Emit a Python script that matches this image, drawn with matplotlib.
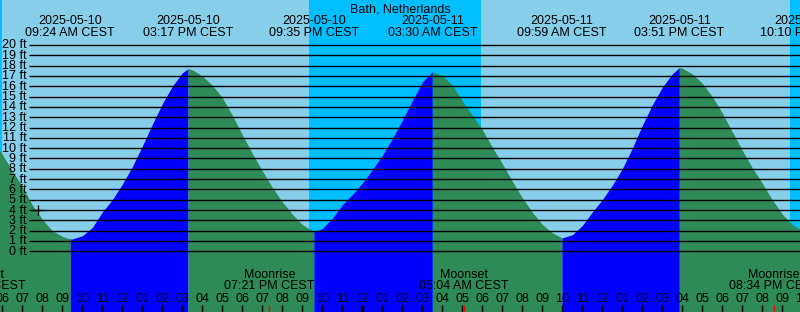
import datetime as dt
import matplotlib
matplotlib.use("Agg")
import matplotlib.pyplot as plt
import matplotlib.transforms as mtransforms

# ---- data ----
station = "Bath, Netherlands"

# tide extremes (local time) and heights in ft
ext_times = ["2025-05-10 03:06", "2025-05-10 09:24", "2025-05-10 15:17",
             "2025-05-10 21:35", "2025-05-11 03:30", "2025-05-11 09:59",
             "2025-05-11 15:51", "2025-05-11 22:10"]
ext_heights = [17.5, 1.2, 17.7, 1.9, 17.4, 1.3, 17.8, 1.9]
ext_high = [True, False, True, False, True, False, True, False]

# tide height every half hour, 2025-05-10 05:00 .. 2025-05-11 22:00
sample_start = "2025-05-10 05:00"
sample_step = 0.5  # hours
heights = [
    12.3, 10.9, 9.4, 7.8, 6.3, 4.5, 3.1, 2.0, 1.45, 1.2,    # 05:00-09:30
    1.5, 2.3, 3.8, 5.0, 6.5, 8.2, 10.2, 12.3, 14.3, 16.0,   # 10:00-14:30
    17.3, 17.6, 17.0, 16.1, 14.9, 13.2, 11.3, 9.5, 7.8, 6.2,  # 15:00-19:30
    4.8, 3.6, 2.6, 2.0, 2.2, 3.2, 4.5, 5.5, 6.6, 7.9,       # 20:00-00:30
    9.3, 10.9, 12.7, 14.6, 16.4, 17.4, 17.05, 16.1, 14.6, 13.2,  # 01:00-05:30
    11.8, 10.1, 8.5, 6.8, 5.2, 3.8, 2.6, 1.8, 1.3, 1.6,     # 06:00-10:30
    2.5, 3.8, 5.0, 6.4, 8.0, 10.0, 12.2, 14.2, 15.9, 17.2,  # 11:00-15:30
    17.75, 17.2, 16.3, 15.0, 13.4, 11.6, 9.8, 8.1, 6.6, 5.0,  # 16:00-20:30
    3.6, 2.6, 2.0,                                          # 21:00-22:00
]

# night periods (sunset -> sunrise)
night = [("2025-05-09 21:18", "2025-05-10 05:59"),
         ("2025-05-10 21:20", "2025-05-11 05:56"),
         ("2025-05-11 21:23", "2025-05-12 05:54")]

moon_events = ["Moonset", "Moonrise", "Moonset", "Moonrise"]
moon_times = ["2025-05-10 04:54", "2025-05-10 19:21",
              "2025-05-11 05:04", "2025-05-11 20:34"]

now_time = "2025-05-10 07:46"
now_height = 4.0

levels = list(range(0, 21))

# ---- helpers ----
t0 = dt.datetime(2025, 5, 10)


def parse(s):
    return dt.datetime.strptime(s, "%Y-%m-%d %H:%M")


def hrs(s):
    return (parse(s) - t0).total_seconds() / 3600.0


W, H = 800, 312
PX_H = 20.0            # pixels per hour
PX_FT = 10.315         # pixels per ft
X0 = 2.3 - 6 * PX_H    # pixel x of t=0
Y0 = 251.3             # pixel y of 0 ft

xmin = -X0 / PX_H
xmax = (W - X0) / PX_H
ymin = -(H - Y0) / PX_FT
ymax = Y0 / PX_FT

DAY = "#87CEEB"
NIGHT = "#00BFFF"
RISE = "#0000FF"
FALL = "#2E8B57"

plt.rcParams["font.family"] = ["Liberation Sans", "DejaVu Sans"]
plt.rcParams["font.size"] = 9

fig = plt.figure(figsize=(W / 100, H / 100), dpi=100)
ax = fig.add_axes([0, 0, 1, 1])
ax.set_xlim(xmin, xmax)
ax.set_ylim(ymin, ymax)
ax.axis("off")
fig.patch.set_facecolor(DAY)
ax.axvspan(xmin, xmax, color=DAY, lw=0, zorder=0)
for a, b in night:
    ax.axvspan(hrs(a), hrs(b), color=NIGHT, lw=0, zorder=0)

# merge the samples with the extremes
s0 = hrs(sample_start)
pts = [(s0 + i * sample_step, v) for i, v in enumerate(heights)]
ext_t = [hrs(s) for s in ext_times]
pts += list(zip(ext_t, ext_heights))
pts.sort()

# rising water in blue, falling water in green
for i in range(len(ext_t) - 1):
    a, b = ext_t[i], ext_t[i + 1]
    seg = [p for p in pts if a <= p[0] <= b]
    xs = [p[0] for p in seg]
    ys = [p[1] for p in seg]
    col = RISE if ext_high[i + 1] else FALL
    ax.fill_between(xs, ys, ymin, color=col, lw=0, zorder=1)

# height grid
ax.hlines(levels, xmin + 29 / PX_H, xmax, colors="black", lw=1.0, zorder=2)
for lv in levels:
    ax.text(xmin + 26.5 / PX_H, lv - 3.5 / PX_FT, f"{lv} ft",
            ha="right", va="baseline", zorder=3)

# top labels
tr_top = mtransforms.blended_transform_factory(ax.transData, ax.transAxes)
ax.text(0.5, 1 - 12 / H, station, transform=ax.transAxes,
        ha="center", va="baseline")
for s in ext_times:
    t = hrs(s)
    if t < xmin - 2:
        continue
    d = parse(s)
    ax.text(t, 1 - 24 / H, d.strftime("%Y-%m-%d"), transform=tr_top,
            ha="center", va="baseline")
    ax.text(t, 1 - 36 / H, d.strftime("%I:%M %p CEST"), transform=tr_top,
            ha="center", va="baseline")

# hour ticks and labels
tick_top = -(305 - Y0) / PX_FT
for k in range(int(xmin), int(xmax) + 2):
    hh = k % 24
    lw = 2.5 if hh == 0 else 1.0
    ax.vlines(k, ymin, tick_top, colors="black", lw=lw, zorder=3)
    ax.text(k, 1 - 302.3 / H, f"{(hh - 1) % 12 + 1:02d}", transform=tr_top,
            ha="center", va="baseline", zorder=3)

# moon events
for name, s in zip(moon_events, moon_times):
    t = hrs(s)
    ax.vlines(t, ymin, tick_top, colors="red", lw=1.0, zorder=4)
    ax.text(t, 1 - 277.7 / H, name, transform=tr_top,
            ha="center", va="baseline", zorder=3)
    ax.text(t, 1 - 289.3 / H, parse(s).strftime("%I:%M %p CEST"),
            transform=tr_top, ha="center", va="baseline", zorder=3)

# current time marker
ax.plot([hrs(now_time)], [now_height], marker="+", color="black",
        ms=7, mew=1.0, zorder=5)

fig.savefig("out.png", dpi=100, facecolor=DAY)
